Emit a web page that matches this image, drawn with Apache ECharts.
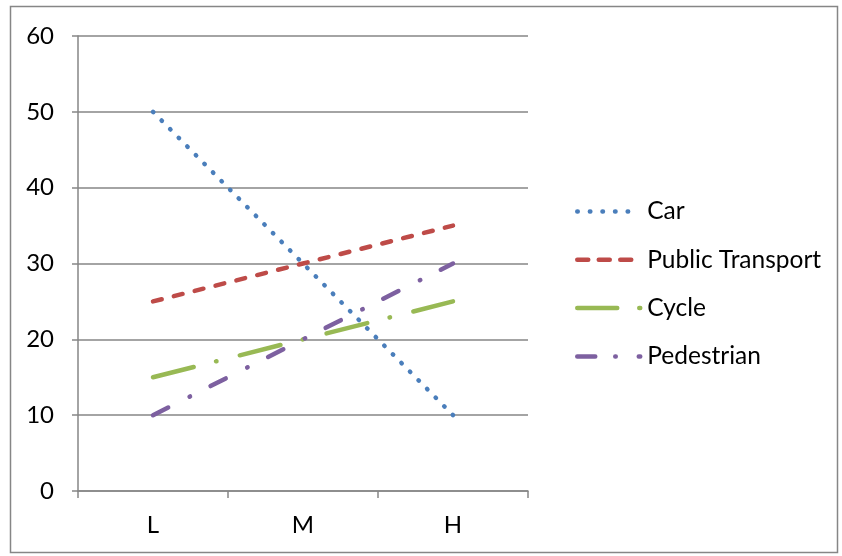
<!DOCTYPE html>
<html>
<head>
<meta charset="utf-8">
<script src="https://cdn.jsdelivr.net/npm/echarts@6/dist/echarts.min.js"></script>
<style>html,body{margin:0;padding:0;background:#fff}#c{width:842px;height:556px}</style>
</head>
<body>
<div id="c"></div>
<script>
var categories = ['L', 'M', 'H'];
var carValues = [50, 30, 10];
var publicTransportValues = [25, 30, 35];
var cycleValues = [15, 20, 25];
var pedestrianValues = [10, 20, 30];
var seriesNames = ['Car', 'Public Transport', 'Cycle', 'Pedestrian'];

var FONT = 'Lato';
var styles = {
  'Car': {color: '#4A7EBB', dash: [0.5, 11.68], width: 4.5},
  'Public Transport': {color: '#BE4B48', dash: [9, 12.5], width: 4.5},
  'Cycle': {color: '#98B954', dash: [42, 23, 0.5, 24], width: 4.5},
  'Pedestrian': {color: '#7D60A0', dash: [17, 24, 0.5, 23], width: 4.5}
};
var legendDash = {
  'Car': [0.5, 12.1],
  'Public Transport': [11, 10.5],
  'Cycle': [40, 22],
  'Pedestrian': [18, 20, 0.5, 23]
};
var chart = echarts.init(document.getElementById('c'), null, {renderer: 'canvas'});
function mk(name, data) {
  var s = styles[name];
  return {
    name: name, type: 'line', data: data, symbol: 'none',
    lineStyle: {color: s.color, width: s.width, type: s.dash, cap: 'round'},
    itemStyle: {color: s.color},
    emphasis: {disabled: true},
    animation: false
  };
}
chart.setOption({
  animation: false,
  textStyle: {fontFamily: FONT},
  graphic: [{type: 'rect', shape: {x: 10.5, y: 6.5, width: 827, height: 546},
    style: {fill: 'none', stroke: '#868686', lineWidth: 1.5}, silent: true}],
  grid: {left: 78, right: 314, top: 36, bottom: 65, containLabel: false},
  legend: {
    orient: 'vertical', left: 570, top: 194, itemGap: 23.3, itemWidth: 63, itemHeight: 24,
    textStyle: {fontFamily: FONT, fontSize: 24.5, color: '#000', padding: [0, 0, 0, 2]},
    itemStyle: {opacity: 0},
    data: seriesNames.map(function (n) {
      return {name: n, lineStyle: {color: styles[n].color, width: 4.5, type: legendDash[n], cap: 'round', opacity: 1}};
    })
  },
  xAxis: {
    type: 'category', data: categories, boundaryGap: true,
    axisLine: {lineStyle: {color: '#868686', width: 1.5}},
    axisTick: {show: true, length: 7, lineStyle: {color: '#868686', width: 1.5}},
    axisLabel: {fontFamily: FONT, fontSize: 24, color: '#000', margin: 22}
  },
  yAxis: {
    type: 'value', min: 0, max: 60, interval: 10,
    axisLine: {show: true, lineStyle: {color: '#868686', width: 1.5}},
    axisTick: {show: true, length: 6, lineStyle: {color: '#868686', width: 1.5}},
    splitLine: {lineStyle: {color: '#868686', width: 1.5}},
    axisLabel: {fontFamily: FONT, fontSize: 24, color: '#000', margin: 24}
  },
  series: [
    mk('Car', carValues),
    mk('Public Transport', publicTransportValues),
    mk('Cycle', cycleValues),
    mk('Pedestrian', pedestrianValues)
  ]
});
</script>
</body>
</html>
